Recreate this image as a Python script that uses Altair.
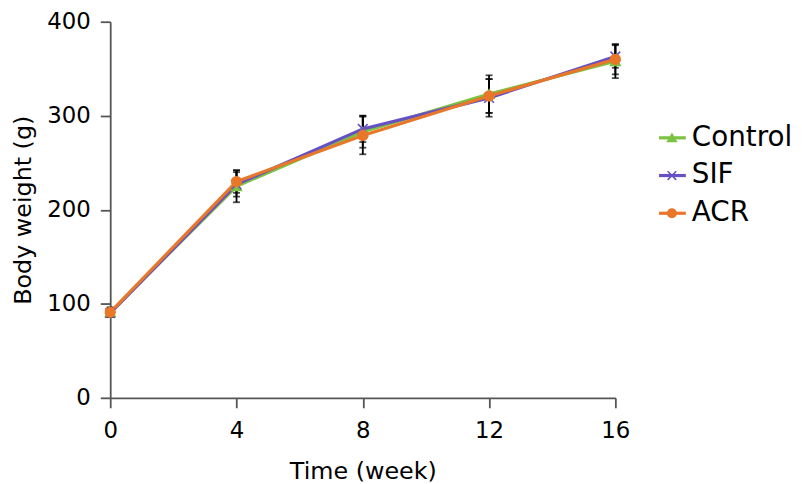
import altair as alt
import pandas as pd

weeks = [0, 4, 8, 12, 16]
groups = ["Control", "SIF", "ACR"]
control = [91, 225, 283, 323, 358]
sif = [90, 227, 286, 319, 363]
acr = [91, 230, 279, 321, 360]
control_sd = [5, 17, 17, 20, 18]
sif_sd = [4, 13, 14, 20, 12]
acr_sd = [5, 12, 20, 18, 16]
colors = ["#7cc242", "#6650c4", "#e8772a"]
shapes = ["triangle-up", "M-1,-1L1,1M-1,1L1,-1", "circle"]

rows = []
for g, vals, sds in [("Control", control, control_sd), ("SIF", sif, sif_sd), ("ACR", acr, acr_sd)]:
    for w, v, s in zip(weeks, vals, sds):
        rows.append({"group": g, "week": w, "value": v, "lo": v - s, "hi": v + s})
df = pd.DataFrame(rows)
leg = pd.DataFrame({"group": groups})

color_scale = alt.Scale(domain=groups, range=colors)
shape_scale = alt.Scale(domain=groups, range=shapes)

x = alt.X("week:Q", title="Time (week)",
          scale=alt.Scale(domain=[0, 16], nice=False),
          axis=alt.Axis(values=weeks, grid=False, labelFlush=False))
yax = alt.Axis(values=[0, 100, 200, 300, 400], grid=False, labelFlush=False)
yscale = alt.Scale(domain=[0, 400], nice=False)

err = alt.Chart(df).mark_errorbar(ticks=True, size=7, thickness=1.8, color="black").encode(
    x=x,
    y=alt.Y("lo:Q", title="Body weight (g)", scale=yscale, axis=yax),
    y2="hi:Q",
    detail="group:N",
)

lines = alt.Chart(df).mark_line(strokeWidth=3.2).encode(
    x=x,
    y=alt.Y("value:Q", title="Body weight (g)", scale=yscale, axis=yax),
    color=alt.Color("group:N", scale=color_scale, legend=None),
    order="week:Q",
)

pts = alt.Chart(df).mark_point(filled=False, strokeWidth=1.6, opacity=1).encode(
    x=x,
    y=alt.Y("value:Q", title="Body weight (g)", scale=yscale, axis=yax),
    fill=alt.Fill("group:N", scale=color_scale, legend=None),
    stroke=alt.Stroke("group:N", scale=color_scale, legend=None),
    shape=alt.Shape("group:N", scale=shape_scale, legend=None),
    size=alt.value(95),
)

ly = alt.Y("group:N", scale=alt.Scale(domain=groups, range=[98, 212]), axis=None)
leg_line = alt.Chart(leg).mark_rule(strokeWidth=3.2).encode(
    x=alt.value(553), x2=alt.value(580), y=ly,
    color=alt.Color("group:N", scale=color_scale, legend=None),
)
leg_pt = alt.Chart(leg).mark_point(filled=False, strokeWidth=1.6, opacity=1).encode(
    x=alt.value(566), y=ly,
    fill=alt.Fill("group:N", scale=color_scale, legend=None),
    stroke=alt.Stroke("group:N", scale=color_scale, legend=None),
    shape=alt.Shape("group:N", scale=shape_scale, legend=None),
    size=alt.value(75),
)
leg_txt = alt.Chart(leg).mark_text(align="left", baseline="middle", fontSize=28,
                                   font="DejaVu Sans", color="black").encode(
    x=alt.value(586), y=ly, text="group:N",
)

main = alt.layer(err, lines, pts).resolve_scale(y="shared")
legend = alt.layer(leg_line, leg_pt, leg_txt)

chart = alt.layer(main, legend).resolve_scale(y="independent").properties(
    width=509, height=379,
    autosize=alt.AutoSizeParams(type="none"),
    padding={"left": 103, "top": 12, "right": 180, "bottom": 85},
).configure_view(stroke=None).configure_axis(
    domainColor="#555555", domainWidth=1.8, tickColor="#555555", tickWidth=1.8,
    tickSize=10, labelFontSize=23, titleFontSize=24, labelFont="DejaVu Sans",
    titleFont="DejaVu Sans", labelColor="black", titleColor="black",
    titleFontWeight="normal",
).configure_axisY(titlePadding=11, labelPadding=10).configure_axisX(
    titlePadding=17, labelPadding=12)

chart.save("out.html", embed_options={"renderer": "svg", "actions": False})
